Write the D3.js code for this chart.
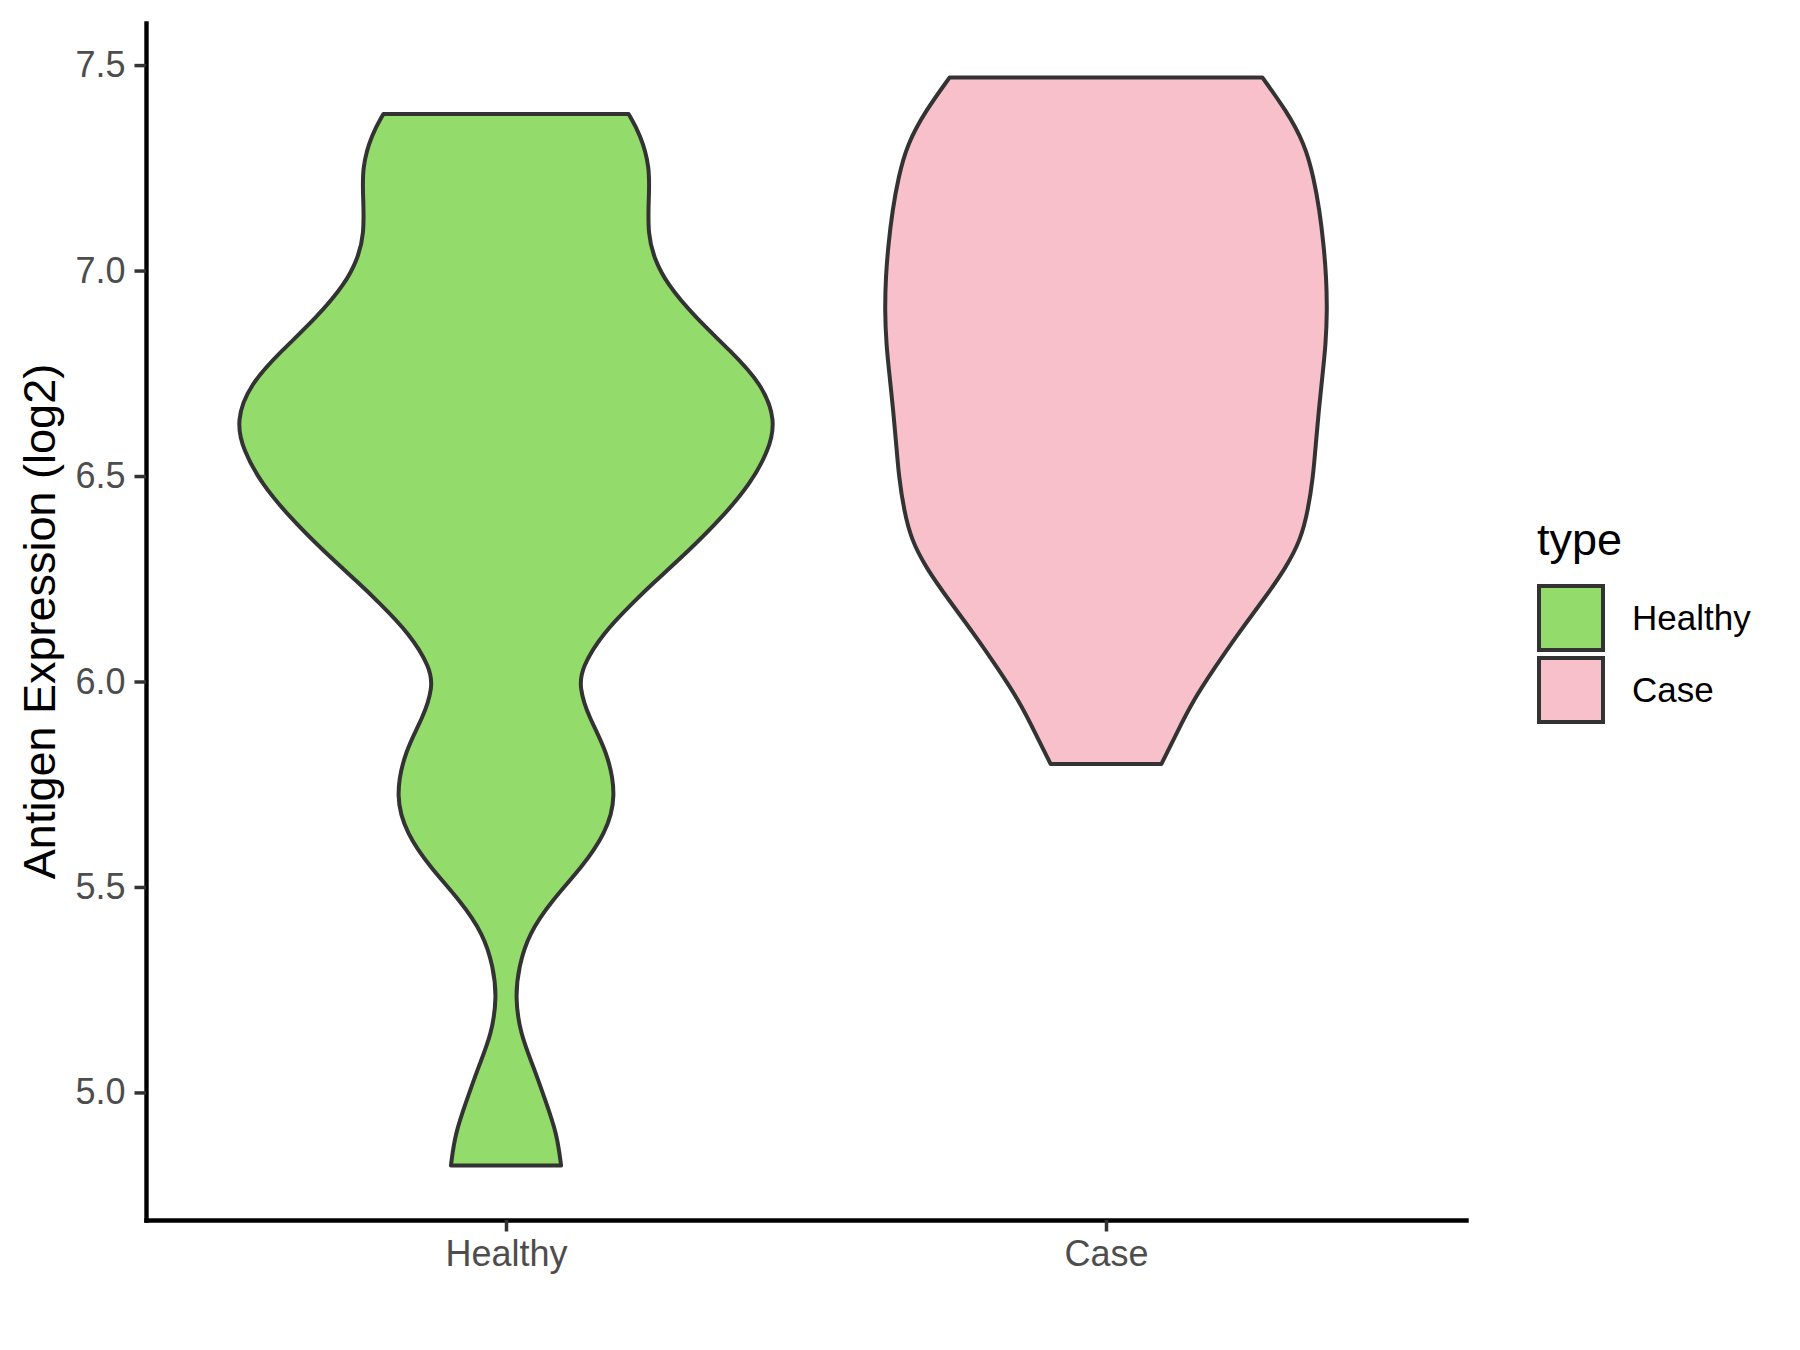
<!DOCTYPE html>
<html>
<head>
<meta charset="utf-8">
<script src="https://cdn.jsdelivr.net/npm/d3@7"></script>
<style>
  body { margin: 0; background: #fff; }
  svg { font-family: "Liberation Sans", Arial, sans-serif; }
</style>
</head>
<body>
<div id="chart"></div>
<script>
var width = 1800,
  height = 1350;

// categories and legend
var groups = ["Healthy", "Case"];
var fills = ["#93DB6B", "#F7C0CB"];

// violin outlines: expression value and relative density (1 = widest)
var healthyY = [7.381, 7.332, 7.251, 7.170, 7.089, 7.032, 6.967, 6.886, 6.805, 6.724, 6.635,
  6.562, 6.481, 6.399, 6.318, 6.237, 6.197, 6.116, 6.034, 5.986, 5.913, 5.832, 5.719, 5.629,
  5.548, 5.467, 5.386, 5.305, 5.231, 5.142, 5.061, 4.980, 4.899, 4.822];
var healthyDensity = [0.454, 0.497, 0.534, 0.528, 0.526, 0.547, 0.596, 0.701, 0.831, 0.948, 1.0,
  0.973, 0.905, 0.800, 0.677, 0.541, 0.478, 0.356, 0.281, 0.271, 0.306, 0.374, 0.411, 0.368,
  0.281, 0.170, 0.084, 0.047, 0.034, 0.053, 0.103, 0.146, 0.189, 0.204];

var caseY = [7.470, 7.389, 7.308, 7.227, 7.146, 7.064, 6.983, 6.902, 6.821, 6.740, 6.659,
  6.578, 6.497, 6.416, 6.347, 6.278, 6.197, 6.116, 6.034, 5.953, 5.872, 5.799];
var caseDensity = [0.579, 0.668, 0.736, 0.769, 0.791, 0.806, 0.816, 0.819, 0.814, 0.801, 0.788,
  0.777, 0.767, 0.748, 0.722, 0.668, 0.581, 0.489, 0.403, 0.322, 0.260, 0.205];

var yTicks = [5.0, 5.5, 6.0, 6.5, 7.0, 7.5];

var violins = [
  { group: "Healthy", y: healthyY, d: healthyDensity },
  { group: "Case", y: caseY, d: caseDensity }
];

var margin = { top: 23, right: 334, bottom: 130, left: 146 };

var svg = d3.select("#chart").append("svg")
  .attr("width", width)
  .attr("height", height);

var x = d3.scalePoint()
  .domain(groups)
  .range([margin.left, width - margin.right])
  .padding(0.6);

var allY = healthyY.concat(caseY);
var lo = d3.min(allY), hi = d3.max(allY), pad = (hi - lo) * 0.05;
var y = d3.scaleLinear()
  .domain([lo - pad, hi + pad])
  .range([height - margin.bottom, margin.top]);

var w = d3.scaleLinear()
  .domain([0, 1])
  .range([0, 0.45 * x.step()]);

var color = d3.scaleOrdinal().domain(groups).range(fills);

// violins
violins.forEach(function(v) {
  var pts = v.y.map(function(val, i) { return { y: val, d: v.d[i] }; });
  var cx = x(v.group);
  var area = d3.area()
    .curve(d3.curveBasis)
    .y(function(p) { return y(p.y); })
    .x0(function(p) { return cx - w(p.d); })
    .x1(function(p) { return cx + w(p.d); });
  svg.append("path")
    .datum(pts)
    .attr("fill", color(v.group))
    .attr("stroke", "#333333")
    .attr("stroke-width", 4)
    .attr("stroke-linejoin", "round")
    .attr("d", area);
});

// axes
var yAxis = svg.append("g")
  .attr("transform", "translate(" + margin.left + ",0)")
  .call(d3.axisLeft(y).tickValues(yTicks).tickFormat(d3.format(".1f"))
    .tickSize(11.5).tickSizeOuter(0).tickPadding(9));

var xAxis = svg.append("g")
  .attr("transform", "translate(0," + (height - margin.bottom) + ")")
  .call(d3.axisBottom(x).tickSize(11.5).tickSizeOuter(0).tickPadding(9));

[yAxis, xAxis].forEach(function(a) {
  a.select(".domain").attr("stroke", "#000").attr("stroke-width", 4.4)
    .attr("stroke-linecap", "square");
  a.selectAll(".tick line").attr("stroke", "#333333").attr("stroke-width", 3.5);
  a.selectAll(".tick text")
    .attr("fill", "#4d4d4d")
    .style("font-size", "36px")
    .style("font-family", "Liberation Sans, Arial, sans-serif");
});

svg.append("text")
  .attr("transform", "translate(55," + ((margin.top + height - margin.bottom) / 2) + ") rotate(-90)")
  .attr("text-anchor", "middle")
  .attr("fill", "#000")
  .style("font-size", "45px")
  .text("Antigen Expression (log2)");

// legend
var legend = svg.append("g").attr("transform", "translate(1537,0)");
legend.append("text")
  .attr("x", 0)
  .attr("y", 555)
  .attr("fill", "#000")
  .style("font-size", "45px")
  .text("type");

var keys = legend.selectAll(".key")
  .data(groups)
  .enter().append("g")
  .attr("class", "key")
  .attr("transform", function(d, i) { return "translate(0," + (584 + i * 72) + ")"; });

keys.append("rect")
  .attr("x", 2)
  .attr("y", 2)
  .attr("width", 64)
  .attr("height", 64)
  .attr("fill", function(d) { return color(d); })
  .attr("stroke", "#333333")
  .attr("stroke-width", 4);

keys.append("text")
  .attr("x", 95)
  .attr("y", 34)
  .attr("dy", "0.35em")
  .attr("fill", "#000")
  .style("font-size", "35px")
  .text(function(d) { return d; });
</script>
</body>
</html>
